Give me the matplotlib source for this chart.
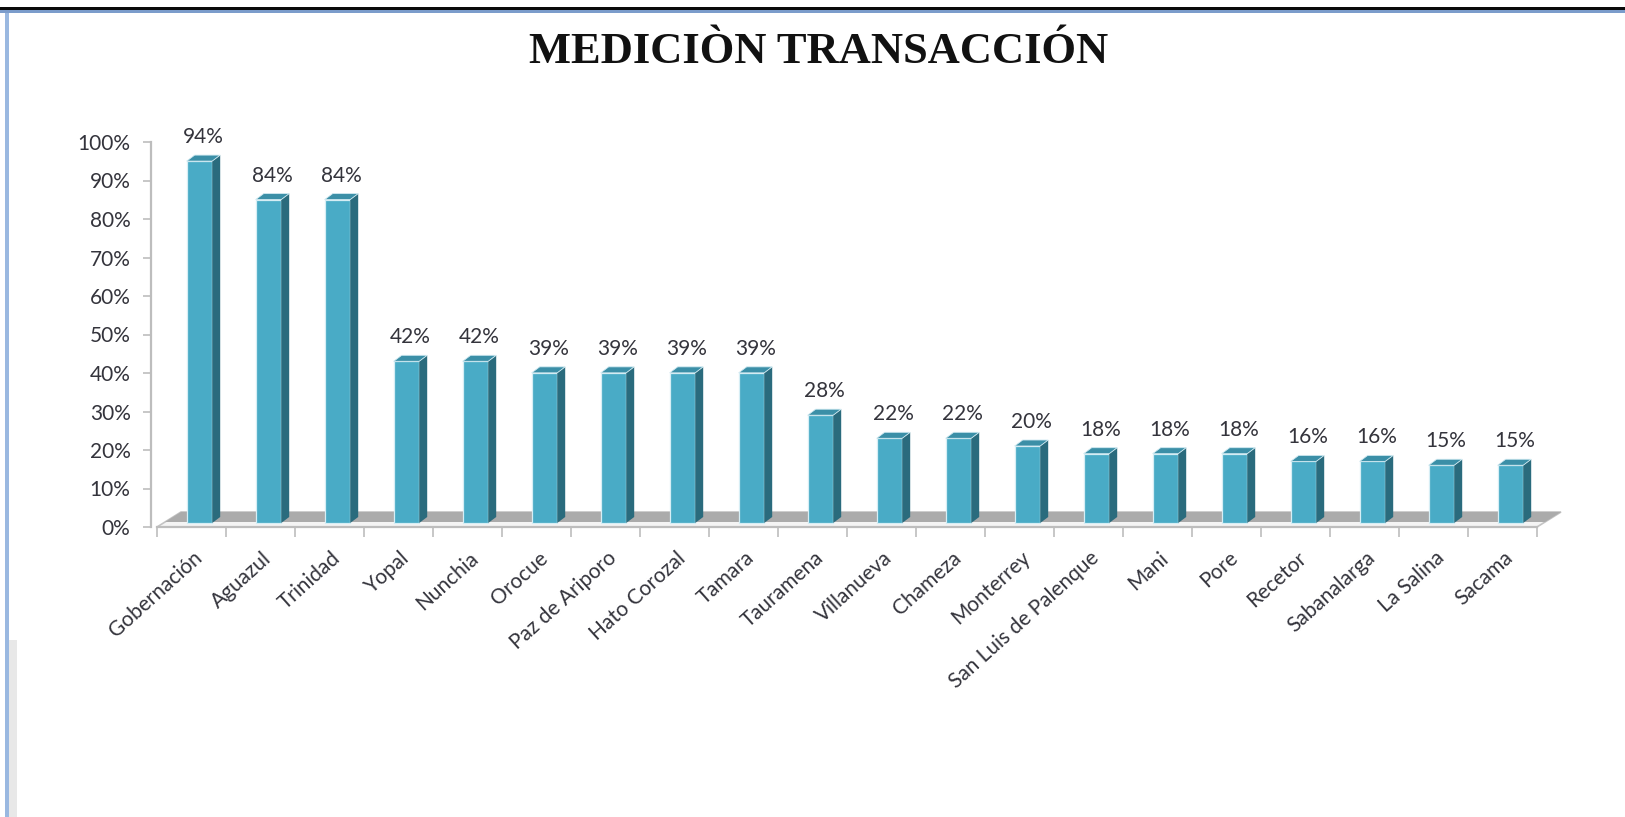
import matplotlib
matplotlib.use("Agg")
import matplotlib.pyplot as plt
from matplotlib.patches import Polygon, Rectangle
import numpy as np

# ---- data ----
categories = ["Gobernación", "Aguazul", "Trinidad", "Yopal", "Nunchia", "Orocue",
              "Paz de Ariporo", "Hato Corozal", "Tamara", "Tauramena", "Villanueva",
              "Chameza", "Monterrey", "San Luis de Palenque", "Mani", "Pore",
              "Recetor", "Sabanalarga", "La Salina", "Sacama"]
values = [0.94, 0.84, 0.84, 0.42, 0.42, 0.39, 0.39, 0.39, 0.39, 0.28, 0.22,
          0.22, 0.20, 0.18, 0.18, 0.18, 0.16, 0.16, 0.15, 0.15]
value_labels = ["94%", "84%", "84%", "42%", "42%", "39%", "39%", "39%", "39%", "28%",
                "22%", "22%", "20%", "18%", "18%", "18%", "16%", "16%", "15%", "15%"]
y_ticks = [0.0, 0.1, 0.2, 0.3, 0.4, 0.5, 0.6, 0.7, 0.8, 0.9, 1.0]
y_tick_labels = ["0%", "10%", "20%", "30%", "40%", "50%", "60%", "70%", "80%", "90%", "100%"]
title = "MEDICIÒN TRANSACCIÓN"

W, H = 1625, 817
fig = plt.figure(figsize=(W / 100, H / 100), dpi=100)
fig.patch.set_facecolor("white")

# axes placed in pixel terms
ax_left, ax_right = 157, 1537
ax_top, ax_bottom = 142, 527
ax = fig.add_axes([ax_left / W, (H - ax_bottom) / H, (ax_right - ax_left) / W, (ax_bottom - ax_top) / H])
n = len(categories)
ax.set_xlim(-0.5, n - 0.5)
ax.set_ylim(0, 1.0)
ax.patch.set_alpha(0)

FONT = "Lato"
TXT = "#34343c"
GRID = "#bdbdbd"

px_x = 1.0 / 69.0      # one pixel in x data units
px_y = 1.0 / 385.0     # one pixel in y data units

# ---- floor (3D base) ----
depth_x, depth_y = 24 * px_x, 15 * px_y
floor = Polygon([(-0.5, 0), (n - 0.5, 0), (n - 0.5 + depth_x, depth_y), (-0.5 + depth_x, depth_y)],
                closed=True, facecolor="#f4f4f4", edgecolor="#c4c4c4", lw=1.2, clip_on=False, zorder=1)
ax.add_patch(floor)
t = 5.0 / 15.0
band = Polygon([(-0.5 + t * depth_x, t * depth_y), (n - 0.5 + t * depth_x, t * depth_y),
                (n - 0.5 + depth_x, depth_y), (-0.5 + depth_x, depth_y)],
               closed=True, facecolor="#ababab", edgecolor="none", clip_on=False, zorder=1.5)
ax.add_patch(band)

# ---- bars (pseudo 3D) ----
x = np.arange(n)
off_l, width = -0.07, 0.37
base = 4 * px_y
sdx, sdy = 8 * px_x, 6 * px_y
front_c, side_c, top_c = "#49abc6", "#2a6b7d", "#3b8fa7"
ax.bar(x + off_l, values, width=width, bottom=base, align="edge", color=front_c,
       edgecolor="#d6eef5", linewidth=0.9, zorder=3, clip_on=False)
for xi, v in zip(x, values):
    x0 = xi + off_l
    x1 = x0 + width
    y1 = v + base
    side = Polygon([(x1, base), (x1 + sdx, base + sdy), (x1 + sdx, y1 + sdy), (x1, y1)],
                   closed=True, facecolor=side_c, edgecolor="none", zorder=3, clip_on=False)
    top = Polygon([(x0, y1), (x1, y1), (x1 + sdx, y1 + sdy), (x0 + sdx, y1 + sdy)],
                  closed=True, facecolor=top_c, edgecolor="#cfe9f1", lw=0.6, zorder=3, clip_on=False)
    ax.add_patch(side)
    ax.add_patch(top)

# value labels
for xi, v, lab in zip(x, values, value_labels):
    ax.text(xi + off_l + (width + sdx) / 2, v + base + 24 * px_y, lab, ha="center", va="center",
            fontsize=15, color=TXT, family=FONT, zorder=5)

# ---- axes styling ----
for s in ["top", "right"]:
    ax.spines[s].set_visible(False)
ax.spines["left"].set_position(("outward", 4))
ax.spines["left"].set_color(GRID)
ax.spines["left"].set_linewidth(1.6)
ax.spines["bottom"].set_color(GRID)
ax.spines["bottom"].set_linewidth(1.6)
ax.spines["bottom"].set_zorder(2)

ax.set_yticks(y_ticks)
ax.set_yticklabels(y_tick_labels, family=FONT, fontsize=15, color=TXT)
ax.tick_params(axis="y", direction="out", length=6, width=1.2, color=GRID, pad=9)

ax.set_xticks(np.arange(-0.5, n, 1.0))
ax.set_xticklabels([])
ax.tick_params(axis="x", direction="out", length=7, width=1.2, color=GRID)

for xi, lab in zip(x, categories):
    ax.annotate(lab, xy=(xi, 0), xytext=(1, -15), textcoords="offset points",
                rotation=42, ha="right", va="top", rotation_mode="anchor",
                fontsize=15, color=TXT, family=FONT, annotation_clip=False)

# ---- title ----
fig.text(0.504, 1 - 52 / H, title, ha="center", va="center", fontsize=32,
         family="Liberation Serif", fontweight="bold", color="#111111")

# ---- frame decorations ----
fig.add_artist(Rectangle((0, 1 - 9.5 / H), 1, 2.8 / H, transform=fig.transFigure,
                         facecolor="#0a0a0a", edgecolor="none"))
fig.add_artist(Rectangle((0, 1 - 12.5 / H), 1, 3.0 / H, transform=fig.transFigure,
                         facecolor="#7b9ccb", edgecolor="none"))
fig.add_artist(Rectangle((5 / W, 0), 3.5 / W, 1 - 12.5 / H, transform=fig.transFigure,
                         facecolor="#9ab8e0", edgecolor="none"))
fig.add_artist(Rectangle((8.5 / W, 0), 8 / W, (H - 640) / H, transform=fig.transFigure,
                         facecolor="#e8e8e8", edgecolor="none"))

fig.savefig("out.png", dpi=100)
